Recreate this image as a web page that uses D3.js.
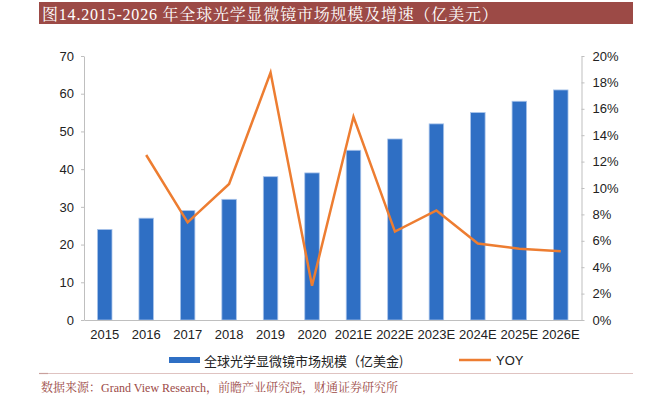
<!DOCTYPE html>
<html>
<head>
<meta charset="utf-8">
<script src="https://cdn.jsdelivr.net/npm/d3@7"></script>
<style>
  body { margin: 0; background: #fff; }
  svg { display: block; }
</style>
</head>
<body>
<div id="vis"></div>
<script>
// data
var years = ["2015","2016","2017","2018","2019","2020","2021E","2022E","2023E","2024E","2025E","2026E"];
var marketSize = [24, 27, 29, 32, 38, 39, 45, 48, 52, 55, 58, 61];
var yoy = [null, 0.125, 0.074, 0.103, 0.1875, 0.026, 0.154, 0.067, 0.083, 0.058, 0.054, 0.052];
var leftTicks = [0, 10, 20, 30, 40, 50, 60, 70];
var rightTicks = [0, 0.02, 0.04, 0.06, 0.08, 0.10, 0.12, 0.14, 0.16, 0.18, 0.20];

var W = 649, H = 397;
var plot = {left: 84, right: 581.5, top: 56, bottom: 320};
var blue = "#2f6fc4", orange = "#ed7d31", axisGrey = "#bfbfbf";
var sans = "'Liberation Sans', Arial, 'Noto Sans CJK SC', sans-serif";
var serif = "'Liberation Serif', 'Noto Serif CJK SC', 'Noto Sans CJK SC', serif";

var svg = d3.select("#vis").append("svg").attr("width", W).attr("height", H);

// title bar
svg.append("rect").attr("x", 39).attr("y", 2).attr("width", 594).attr("height", 22).attr("fill", "#9c4a46");
svg.append("text").attr("x", 42).attr("y", 19.5).attr("fill", "#fff")
  .style("font-family", serif).style("font-size", "16px").style("letter-spacing", "0.8px")
  .text("图14.2015-2026 年全球光学显微镜市场规模及增速（亿美元）");

var x = d3.scaleBand().domain(years).range([plot.left, plot.right]).paddingInner(0.65).paddingOuter(0.325);
var yL = d3.scaleLinear().domain([0, 70]).range([plot.bottom, plot.top]);
var yR = d3.scaleLinear().domain([0, 0.2]).range([plot.bottom, plot.top]);

// bars
svg.append("g").selectAll("rect").data(years).join("rect")
  .attr("x", function(d) { return x(d); })
  .attr("y", function(d, i) { return yL(marketSize[i]); })
  .attr("width", x.bandwidth())
  .attr("height", function(d, i) { return plot.bottom - yL(marketSize[i]); })
  .attr("fill", blue)
  .attr("stroke", "#a9c4ea").attr("stroke-width", 0.8);

// axes
function styleAxis(g) {
  g.selectAll("path, line").attr("stroke", axisGrey);
  g.selectAll("text").attr("fill", "#222").style("font-family", sans).style("font-size", "13px");
}

svg.append("g").attr("transform", "translate(" + plot.left + ",0)")
  .call(d3.axisLeft(yL).tickValues(leftTicks).tickSize(3).tickSizeOuter(0).tickPadding(7))
  .call(styleAxis);

svg.append("g").attr("transform", "translate(" + plot.right + ",0)")
  .call(d3.axisRight(yR).tickValues(rightTicks).tickSize(3).tickSizeOuter(0).tickPadding(8).tickFormat(d3.format(".0%")))
  .call(styleAxis);

var xAxis = svg.append("g").attr("transform", "translate(0," + plot.bottom + ")")
  .call(d3.axisBottom(x).tickSize(0).tickSizeOuter(0).tickPadding(10))
  .call(styleAxis);

// yoy line
var line = d3.line()
  .defined(function(d) { return d != null; })
  .x(function(d, i) { return x(years[i]) + x.bandwidth() / 2; })
  .y(function(d) { return yR(d); });
svg.append("path").datum(yoy).attr("d", line)
  .attr("fill", "none").attr("stroke", orange).attr("stroke-width", 2.5).attr("stroke-linejoin", "miter");

// legend
var lg = svg.append("g");
lg.append("rect").attr("x", 169).attr("y", 357).attr("width", 31).attr("height", 6).attr("fill", blue);
lg.append("text").attr("x", 204).attr("y", 366).attr("fill", "#222")
  .style("font-family", "'Noto Sans CJK SC', sans-serif").style("font-size", "13px")
  .text("全球光学显微镜市场规模（亿美金)");
lg.append("line").attr("x1", 459).attr("x2", 491).attr("y1", 360).attr("y2", 360)
  .attr("stroke", orange).attr("stroke-width", 2.5);
lg.append("text").attr("x", 496).attr("y", 365).attr("fill", "#222")
  .style("font-family", sans).style("font-size", "13px").text("YOY");

// separator + source
svg.append("line").attr("x1", 39).attr("x2", 633).attr("y1", 373.5).attr("y2", 373.5)
  .attr("stroke", "#dfc3c1").attr("stroke-width", 1.2);
svg.append("line").attr("x1", 39).attr("x2", 48).attr("y1", 373.5).attr("y2", 373.5)
  .attr("stroke", "#c9a09d").attr("stroke-width", 1.2);
svg.append("text").attr("x", 41).attr("y", 392).attr("fill", "#9c4a46")
  .style("font-family", serif).style("font-size", "12px")
  .text("数据来源：Grand View Research，前瞻产业研究院，财通证券研究所");
</script>
</body>
</html>
